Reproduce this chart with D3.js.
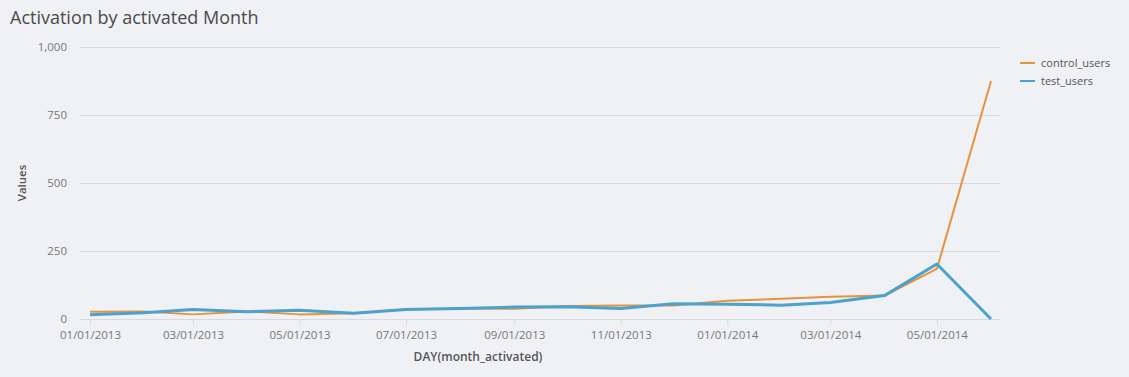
<!DOCTYPE html>
<html>
<head>
<meta charset="utf-8">
<script src="https://cdn.jsdelivr.net/npm/d3@7"></script>
<style>
  html, body { margin: 0; padding: 0; background: #f0f1f5; }
  svg { display: block; font-family: "Open Sans", sans-serif; }
</style>
</head>
<body>
<svg id="chart" width="1129" height="377"></svg>
<script>
const months = ["2013-01-01","2013-02-01","2013-03-01","2013-04-01","2013-05-01","2013-06-01",
  "2013-07-01","2013-08-01","2013-09-01","2013-10-01","2013-11-01","2013-12-01",
  "2014-01-01","2014-02-01","2014-03-01","2014-04-01","2014-05-01","2014-06-01"];
const controlUsers = [27, 28, 17, 28, 17, 21, 36, 39, 38, 48, 50, 50, 67, 74, 82, 86, 184, 875];
const testUsers    = [16, 23, 35, 27, 32, 21, 35, 39, 44, 45, 39, 56, 54, 51, 61, 86, 202, 0];
const yTicks = [0, 250, 500, 750, 1000];
const xTicks = ["2013-01-01","2013-03-01","2013-05-01","2013-07-01","2013-09-01","2013-11-01",
  "2014-01-01","2014-03-01","2014-05-01"];
const seriesNames = ["control_users", "test_users"];
const seriesColors = ["#e8923a", "#4ba2cc"];
const seriesWidths = [2, 3];

const parse = d3.utcParse("%Y-%m-%d");
const fmtX = d3.utcFormat("%m/%d/%Y");
const dates = months.map(parse);

const svg = d3.select("#chart");
const plot = { left: 80, right: 1000, top: 47, bottom: 319 };

const x = d3.scaleUtc()
  .domain([dates[0], dates[dates.length - 1]])
  .range([90, 991]);
const y = d3.scaleLinear().domain([0, 1000]).range([plot.bottom, plot.top]);

// Title
svg.append("text")
  .attr("x", 10).attr("y", 24)
  .attr("fill", "#4a4a4a")
  .attr("font-size", 18)
  .text("Activation by activated Month");

// Gridlines + y labels
const yAxis = d3.axisLeft(y).tickValues(yTicks)
  .tickSize(plot.left - plot.right)
  .tickPadding(13)
  .tickFormat(d3.format(","));
const gy = svg.append("g").attr("transform", `translate(${plot.left},0)`).call(yAxis);
gy.select(".domain").remove();
gy.selectAll(".tick line").attr("stroke", "#d8d9de").attr("stroke-width", 1);
gy.selectAll(".tick text").attr("fill", "#777").attr("font-size", 11.5)
  .attr("font-family", "Open Sans, sans-serif");

// X axis ticks
const xAxis = d3.axisBottom(x)
  .tickValues(xTicks.map(parse))
  .tickSize(6)
  .tickPadding(6)
  .tickFormat(fmtX);
const gx = svg.append("g").attr("transform", `translate(0,${plot.bottom})`).call(xAxis);
gx.select(".domain").remove();
gx.selectAll(".tick line").attr("stroke", "#d8d9de");
gx.selectAll(".tick text").attr("fill", "#777").attr("font-size", 11.5)
  .attr("font-family", "Open Sans, sans-serif");

// Axis titles
svg.append("text")
  .attr("transform", `translate(26,${(plot.top + plot.bottom) / 2}) rotate(-90)`)
  .attr("text-anchor", "middle")
  .attr("fill", "#555").attr("font-size", 11.5).attr("font-weight", 600)
  .text("Values");
svg.append("text")
  .attr("x", 478).attr("y", 361)
  .attr("text-anchor", "middle")
  .attr("fill", "#555").attr("font-size", 12).attr("font-weight", 600)
  .text("DAY(month_activated)");

// Lines
const seriesData = [controlUsers, testUsers];
const line = d3.line()
  .x((d, i) => x(dates[i]))
  .y(d => y(d));
seriesData.forEach((vals, k) => {
  svg.append("path")
    .datum(vals)
    .attr("fill", "none")
    .attr("stroke", seriesColors[k])
    .attr("stroke-width", seriesWidths[k])
    .attr("stroke-linejoin", "round")
    .attr("d", line);
});

// Legend
const lg = svg.append("g").attr("transform", "translate(1020,63)");
seriesNames.forEach((name, k) => {
  const row = lg.append("g").attr("transform", `translate(0,${k * 18})`);
  row.append("line").attr("x1", 0).attr("x2", 15).attr("y1", 0).attr("y2", 0)
    .attr("stroke", seriesColors[k]).attr("stroke-width", 2);
  row.append("text").attr("x", 21).attr("y", 4)
    .attr("fill", "#555").attr("font-size", 11)
    .text(name);
});
</script>
</body>
</html>
